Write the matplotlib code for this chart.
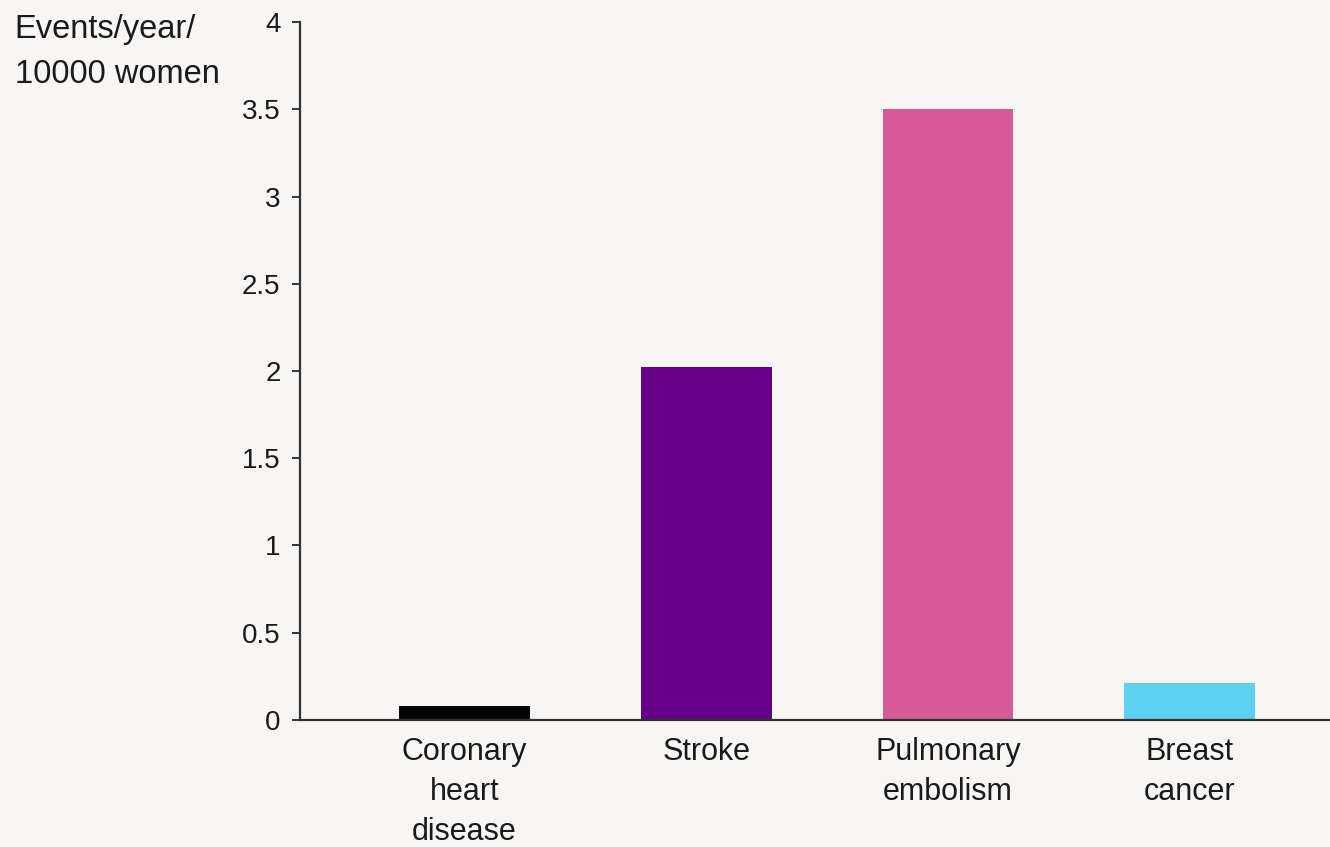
import numpy as np
import matplotlib.pyplot as plt

# Données
categories = ['Coronary\nheart\ndisease', 'Stroke', 'Pulmonary\nembolism', 'Breast\ncancer']
events = [0.08, 2.02, 3.5, 0.21]
colors = ['#050505', '#660088', '#d75b99', '#5dd1f0']
yticks = [0, 0.5, 1, 1.5, 2, 2.5, 3, 3.5, 4]
ytick_labels = ['0', '0.5', '1', '1.5', '2', '2.5', '3', '3.5', '4']

plt.rcParams['font.family'] = ['Liberation Sans', 'DejaVu Sans']

fig = plt.figure(figsize=(13.3, 8.47), dpi=100)
fig.patch.set_facecolor('#f8f6f4')
ax = fig.add_axes([0.2256, 0.15, 0.7744, 0.824])
ax.set_facecolor('none')

x = np.arange(len(categories))
ax.bar(x, events, width=0.54, color=colors, zorder=2)

ax.set_xlim(-0.68, 3.58)
ax.set_ylim(0, 4)
ax.set_yticks(yticks)
ax.set_yticklabels(ytick_labels)
ax.set_xticks(x)
ax.set_xticklabels(categories, linespacing=1.45)

for s in ['top', 'right']:
    ax.spines[s].set_visible(False)
for s in ['left', 'bottom']:
    ax.spines[s].set_color('#333333')
    ax.spines[s].set_linewidth(1.6)

ax.tick_params(axis='y', length=6, width=1.4, color='#333333', labelsize=20, pad=8, labelcolor='#1a1a1a')
ax.tick_params(axis='x', length=0, labelsize=22, pad=12, labelcolor='#1a1a1a')

fig.text(0.011, 0.984, 'Events/year/\n10000 women', ha='left', va='top',
         fontsize=23.5, color='#1a1a1a', linespacing=1.6)

fig.savefig('out.png', dpi=100, facecolor=fig.get_facecolor())
plt.close(fig)
